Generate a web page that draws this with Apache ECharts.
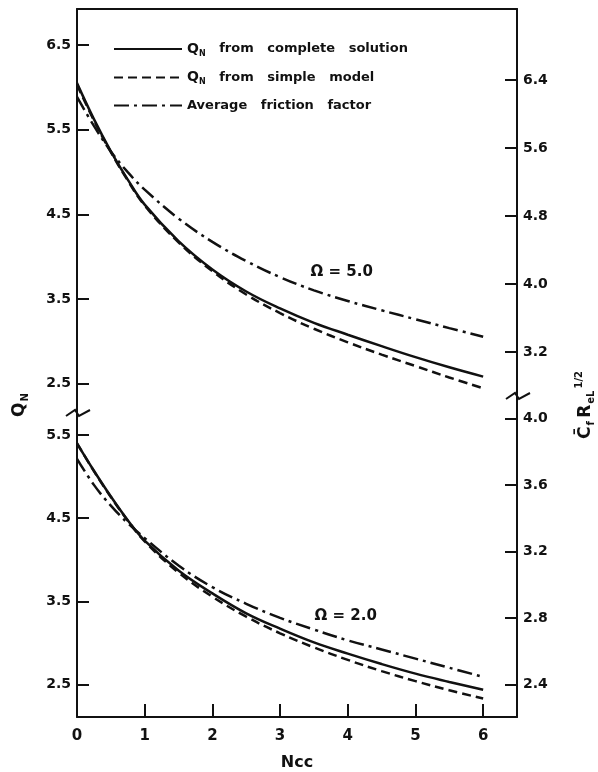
<!DOCTYPE html>
<html>
<head>
<meta charset="utf-8">
<script src="https://cdn.jsdelivr.net/npm/echarts@6/dist/echarts.min.js"></script>
<style>
  html, body { margin: 0; padding: 0; background: #fff; }
  #chart { width: 598px; height: 772px; }
</style>
</head>
<body>
<div id="chart"></div>
<script>
// Ncc values where the curves were read
const ncc = [0, 0.25, 0.5, 0.75, 1, 1.5, 2, 2.5, 3, 3.5, 4, 4.5, 5, 5.5, 6]

// Omega = 5.0 (upper panel)
const qComplete5 = [6.05, 5.625, 5.245, 4.91, 4.615, 4.185, 3.85, 3.59, 3.39, 3.22, 3.08, 2.945, 2.815, 2.695, 2.585]
const qSimple5 = [6.03, 5.61, 5.235, 4.90, 4.605, 4.17, 3.83, 3.555, 3.335, 3.15, 2.99, 2.845, 2.71, 2.575, 2.447]
const friction5 = [6.2, 5.86, 5.56, 5.315, 5.11, 4.77, 4.495, 4.27, 4.08, 3.925, 3.80, 3.69, 3.585, 3.48, 3.38]

// Omega = 2.0 (lower panel)
const qComplete2 = [5.40, 5.07, 4.76, 4.475, 4.23, 3.87, 3.595, 3.355, 3.17, 3.005, 2.87, 2.745, 2.63, 2.53, 2.435]
const qSimple2 = [5.40, 5.065, 4.755, 4.47, 4.22, 3.845, 3.555, 3.315, 3.115, 2.945, 2.795, 2.66, 2.54, 2.43, 2.33]
const friction2 = [3.757, 3.60, 3.475, 3.37, 3.28, 3.115, 2.985, 2.885, 2.80, 2.73, 2.665, 2.61, 2.555, 2.50, 2.445]

// tick labels
const xTicks = [0, 1, 2, 3, 4, 5, 6]
const qTicksTop = [2.5, 3.5, 4.5, 5.5, 6.5]
const cfTicksTop = [3.2, 4.0, 4.8, 5.6, 6.4]
const qTicksBottom = [2.5, 3.5, 4.5, 5.5]
const cfTicksBottom = [2.4, 2.8, 3.2, 3.6, 4.0]

const names = ['complete', 'simple', 'friction']

const font = 'DejaVu Sans'
const ink = '#111'

const pairs = (ys) => ncc.map((x, i) => [x, ys[i]])

const yAxisOf = (gridIndex, position, min, max, ticks) => ({
  type: 'value',
  gridIndex,
  position,
  min,
  max,
  splitLine: { show: false },
  axisLine: { show: true, lineStyle: { color: ink, width: 2 } },
  axisTick: { show: true, inside: true, length: 12, lineStyle: { color: ink, width: 2 }, customValues: ticks },
  axisLabel: {
    show: true,
    customValues: ticks,
    margin: 6,
    color: ink,
    fontFamily: font,
    fontWeight: 'bold',
    fontSize: 14,
    formatter: (v) => v.toFixed(1),
  },
})

const lineStyles = {
  complete: { type: 'solid' },
  simple: { type: [9, 5] },
  friction: { type: [15, 5, 3, 5] },
}

const seriesOf = (name, xAxisIndex, yAxisIndex, ys, extra) => Object.assign({
  name,
  type: 'line',
  xAxisIndex,
  yAxisIndex,
  data: pairs(ys),
  symbol: 'none',
  smooth: 0.4,
  lineStyle: Object.assign({ color: ink, width: 2.5 }, lineStyles[name]),
  itemStyle: { color: ink },
  z: 3,
}, extra || {})

const omegaLabel = (text, coord) => ({
  symbol: 'rect',
  symbolSize: 1,
  silent: true,
  itemStyle: { color: 'rgba(0,0,0,0)' },
  label: {
    show: true,
    position: 'inside',
    formatter: text,
    color: ink,
    fontFamily: font,
    fontWeight: 'bold',
    fontSize: 15,
  },
  data: [{ coord }],
})

const legendText = {
  complete: '{q|Q}{n|N}   from   complete   solution',
  simple: '{q|Q}{n|N}   from   simple   model',
  friction: 'Average   friction   factor',
}

const breakMark = (x, y) => ({
  type: 'polyline',
  shape: { points: [[x - 11, y + 3], [x - 2, y - 3], [x + 2, y + 3], [x + 13, y - 3]] },
  style: { stroke: ink, lineWidth: 2, fill: null },
  z: 10,
})

const chart = echarts.init(document.getElementById('chart'), null, { renderer: 'canvas' })

const option = {
  backgroundColor: '#fff',
  animation: false,
  grid: [
    { left: 77, right: 81, top: 9, height: 396 },
    { left: 77, right: 81, top: 405, height: 319 },
  ],
  legend: {
    data: names,
    orient: 'vertical',
    left: 108,
    top: 37,
    itemWidth: 68,
    itemHeight: 14,
    itemGap: 13,
    itemStyle: { opacity: 0 },
    formatter: (n) => legendText[n],
    textStyle: {
      color: ink,
      fontFamily: font,
      fontWeight: 'bold',
      fontSize: 13,
      rich: {
        q: { fontFamily: font, fontWeight: 'bold', fontSize: 14, color: ink },
        n: { fontFamily: font, fontWeight: 'bold', fontSize: 8, color: ink, padding: [9, 0, 0, 0] },
      },
    },
  },
  xAxis: [
    {
      type: 'value',
      gridIndex: 0,
      position: 'top',
      min: 0,
      max: 6.5,
      splitLine: { show: false },
      axisLine: { show: true, lineStyle: { color: ink, width: 2 } },
      axisTick: { show: false },
      axisLabel: { show: false },
    },
    {
      type: 'value',
      gridIndex: 1,
      position: 'bottom',
      min: 0,
      max: 6.5,
      name: 'Ncc',
      nameLocation: 'middle',
      nameGap: 38,
      nameTextStyle: { color: ink, fontFamily: font, fontWeight: 'bold', fontSize: 16 },
      splitLine: { show: false },
      axisLine: { show: true, lineStyle: { color: ink, width: 2 } },
      axisTick: { show: true, inside: true, length: 13, lineStyle: { color: ink, width: 2 }, customValues: xTicks },
      axisLabel: {
        show: true,
        customValues: xTicks,
        margin: 12,
        color: ink,
        fontFamily: font,
        fontWeight: 'bold',
        fontSize: 15,
        formatter: (v) => String(v),
      },
    },
  ],
  yAxis: [
    yAxisOf(0, 'left', 2.25, 6.925, qTicksTop),
    yAxisOf(0, 'right', 2.576, 7.235, cfTicksTop),
    yAxisOf(1, 'left', 2.108, 5.861, qTicksBottom),
    yAxisOf(1, 'right', 2.204, 4.0805, cfTicksBottom),
  ],
  series: [
    seriesOf('complete', 0, 0, qComplete5, { markPoint: omegaLabel('Ω = 5.0', [3.91, 3.82]) }),
    seriesOf('simple', 0, 0, qSimple5),
    seriesOf('friction', 0, 1, friction5),
    seriesOf('complete', 1, 2, qComplete2, { markPoint: omegaLabel('Ω = 2.0', [3.97, 3.32]) }),
    seriesOf('simple', 1, 2, qSimple2),
    seriesOf('friction', 1, 3, friction2),
  ],
  graphic: [
    breakMark(77, 413),
    breakMark(517, 396),
    {
      type: 'text',
      x: 20,
      y: 405,
      rotation: Math.PI / 2,
      style: {
        text: '{q|Q}{n|N}',
        textAlign: 'center',
        textVerticalAlign: 'middle',
        rich: {
          q: { fontFamily: font, fontWeight: 'bold', fontSize: 17, fill: ink },
          n: { fontFamily: font, fontWeight: 'bold', fontSize: 10, fill: ink, padding: [10, 0, 0, 1] },
        },
      },
    },
    {
      type: 'text',
      x: 586,
      y: 405,
      rotation: Math.PI / 2,
      style: {
        text: '{c|C\u0304}{s|f} {c|R}{s|eL}{p|1/2}',
        textAlign: 'center',
        textVerticalAlign: 'middle',
        rich: {
          c: { fontFamily: font, fontWeight: 'bold', fontSize: 17, fill: ink },
          s: { fontFamily: font, fontWeight: 'bold', fontSize: 10, fill: ink, padding: [10, 0, 0, 1] },
          p: { fontFamily: font, fontWeight: 'bold', fontSize: 10, fill: ink, padding: [0, 0, 14, 2] },
        },
      },
    },
  ],
}

chart.setOption(option)
</script>
</body>
</html>
